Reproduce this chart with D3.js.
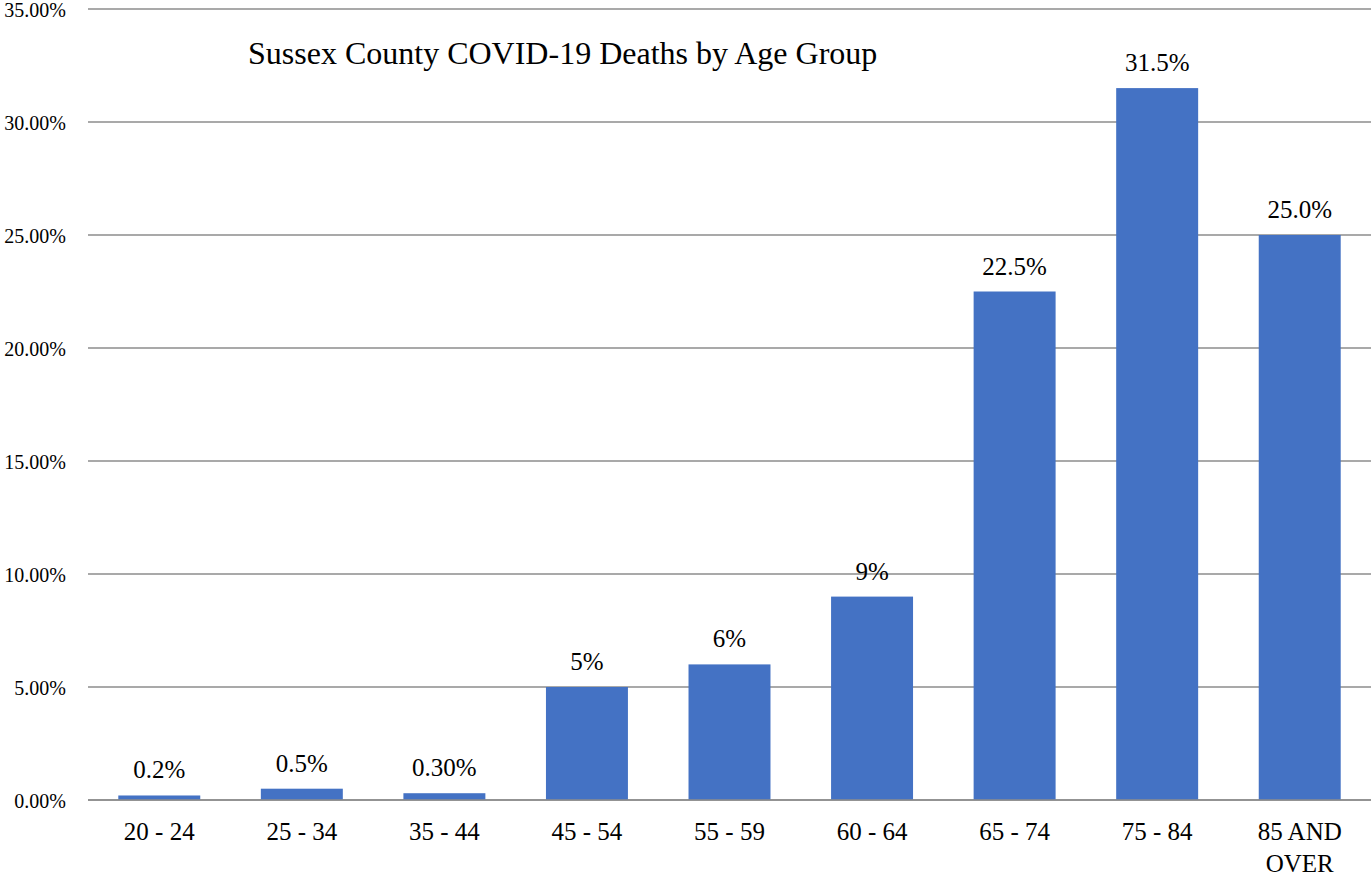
<!DOCTYPE html>
<html>
<head>
<meta charset="utf-8">
<script src="https://cdn.jsdelivr.net/npm/d3@7"></script>
<style>
  html, body { margin: 0; padding: 0; background: #fff; }
  svg { display: block; }
  svg text { font-family: "Liberation Serif", "Times New Roman", Times, serif; }
</style>
</head>
<body>
<svg id="chart" width="1371" height="877"></svg>
<script>
// Age groups and share of deaths (%)
const categories = ['20 - 24', '25 - 34', '35 - 44', '45 - 54', '55 - 59', '60 - 64', '65 - 74', '75 - 84', '85 AND OVER'];
const values = [0.2, 0.5, 0.3, 5, 6, 9, 22.5, 31.5, 25];
const valueLabels = ['0.2%', '0.5%', '0.30%', '5%', '6%', '9%', '22.5%', '31.5%', '25.0%'];
const yTicks = [0, 5, 10, 15, 20, 25, 30, 35];

const svg = d3.select('#chart');
const width = 1371;
const height = 877;
const margin = { top: 9, right: 0, bottom: 77, left: 88 };

const x = d3.scaleBand()
  .domain(categories)
  .range([margin.left, width - margin.right])
  .paddingInner(0.425)
  .paddingOuter(0.2125);

const y = d3.scaleLinear()
  .domain([0, 35])
  .range([height - margin.bottom, margin.top]);

// Gridlines
svg.append('g')
  .selectAll('line')
  .data(yTicks)
  .enter()
  .append('line')
  .attr('x1', margin.left)
  .attr('x2', width - margin.right)
  .attr('y1', d => y(d))
  .attr('y2', d => y(d))
  .attr('stroke', '#8c8c8c')
  .attr('stroke-width', 1.3);

// Y axis labels
const yAxis = d3.axisLeft(y)
  .tickValues(yTicks)
  .tickSize(0)
  .tickPadding(22)
  .tickFormat(d => d.toFixed(2) + '%');

svg.append('g')
  .attr('transform', `translate(${margin.left},0)`)
  .call(yAxis)
  .call(g => g.attr('font-family', null))
  .call(g => g.select('.domain').remove())
  .call(g => g.selectAll('text')
    .attr('font-size', 20)
    .attr('dy', '0.36em')
    .attr('fill', '#000'));

// Bars
svg.selectAll('.bar')
  .data(values)
  .enter()
  .append('rect')
  .attr('class', 'bar')
  .attr('x', (d, i) => x(categories[i]))
  .attr('y', d => y(d))
  .attr('width', x.bandwidth())
  .attr('height', d => y(0) - y(d))
  .attr('fill', '#4472c4');

// Redraw baseline on top of bars
svg.append('line')
  .attr('x1', margin.left)
  .attr('x2', width - margin.right)
  .attr('y1', y(0))
  .attr('y2', y(0))
  .attr('stroke', '#8c8c8c')
  .attr('stroke-width', 1.3);

// Value labels
svg.selectAll('.label')
  .data(values)
  .enter()
  .append('text')
  .attr('class', 'label')
  .attr('x', (d, i) => x(categories[i]) + x.bandwidth() / 2)
  .attr('y', d => y(d) - 17)
  .attr('text-anchor', 'middle')
  .attr('font-size', 25)
  .attr('fill', '#000')
  .text((d, i) => valueLabels[i]);

// X axis labels (wrapped)
const xAxis = d3.axisBottom(x).tickSize(0).tickPadding(0);
svg.append('g')
  .attr('transform', `translate(0,${y(0)})`)
  .call(xAxis)
  .call(g => g.attr('font-family', null))
  .call(g => g.select('.domain').remove())
  .call(g => g.selectAll('text').remove())
  .call(g => g.selectAll('.tick').each(function (d) {
    const words = d === '85 AND OVER' ? ['85 AND', 'OVER'] : [d];
    const t = d3.select(this).append('text')
      .attr('text-anchor', 'middle')
      .attr('font-size', 25)
      .attr('fill', '#000');
    words.forEach((w, j) => {
      t.append('tspan')
        .attr('x', 0)
        .attr('y', 40 + j * 32)
        .text(w);
    });
  }));

// Title
svg.append('text')
  .attr('x', 248)
  .attr('y', 64)
  .attr('font-size', 32)
  .attr('fill', '#000')
  .text('Sussex County COVID-19 Deaths by Age Group');
</script>
</body>
</html>
